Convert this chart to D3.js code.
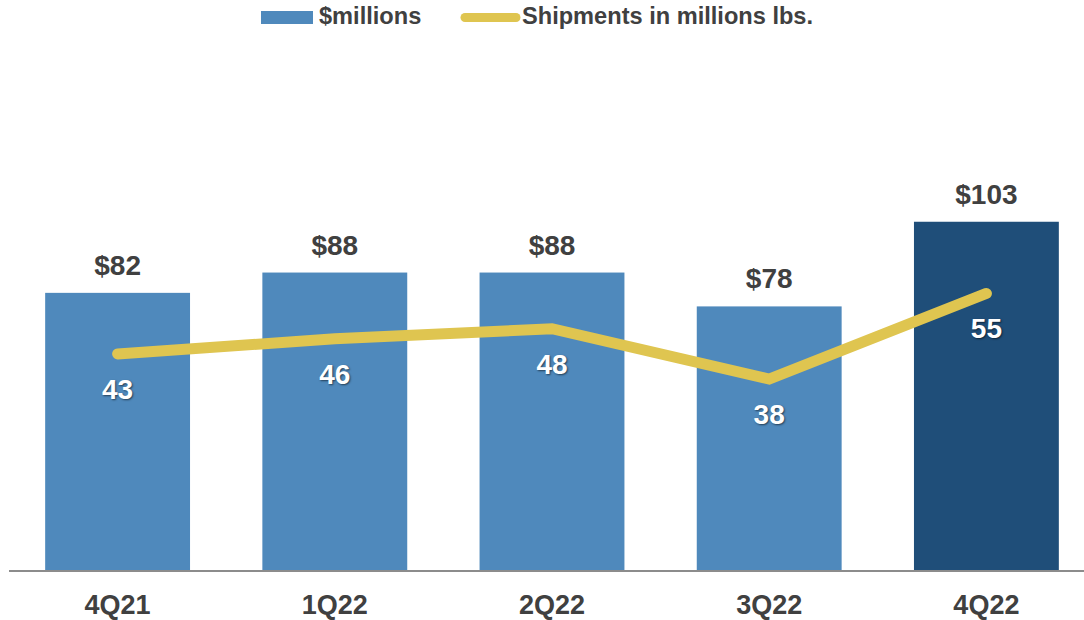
<!DOCTYPE html>
<html>
<head>
<meta charset="utf-8">
<script src="https://cdn.jsdelivr.net/npm/d3@7"></script>
<style>
  html, body { margin: 0; padding: 0; background: #ffffff; }
  svg { display: block; font-family: "Liberation Sans", Arial, sans-serif; font-weight: bold; }
  .inner { text-shadow: 1px 1px 2px rgba(0,0,0,0.55); }
</style>
</head>
<body>
<svg id="chart" width="1084" height="620"></svg>
<script>
// Quarterly revenue ($ millions) and shipments (millions lbs.)
const quarters = ["4Q21", "1Q22", "2Q22", "3Q22", "4Q22"];
const revenue = [82, 88, 88, 78, 103];
const shipments = [43, 46, 48, 38, 55];
const revenueLabels = ["$82", "$88", "$88", "$78", "$103"];
const legendLabels = ["$millions", "Shipments in millions lbs."];

const W = 1084, H = 620;
const baseY = 570.5, topY = 162.5;

const svg = d3.select("#chart");

const x = d3.scaleBand()
  .domain(quarters)
  .range([9, 1095])
  .paddingInner(0.333)
  .paddingOuter(0.1665);

const yBar = d3.scaleLinear().domain([0, 120.5]).range([baseY, topY]);
const yLine = d3.scaleLinear().domain([0, 81]).range([baseY, topY]);

const barColor = "#4f89bc";
const lastColor = "#1f4e79";
const lineColor = "#dfc550";
const textColor = "#404040";

// Bars
svg.append("g").selectAll("rect")
  .data(quarters)
  .join("rect")
  .attr("x", d => x(d))
  .attr("width", x.bandwidth())
  .attr("y", (d, i) => yBar(revenue[i]))
  .attr("height", (d, i) => baseY - yBar(revenue[i]))
  .attr("fill", (d, i) => i === quarters.length - 1 ? lastColor : barColor);

// Category axis line
svg.append("line")
  .attr("x1", 9).attr("x2", W)
  .attr("y1", 571).attr("y2", 571)
  .attr("stroke", "#8c8c8c")
  .attr("stroke-width", 2);

// Bar value labels
svg.append("g").selectAll("text")
  .data(quarters)
  .join("text")
  .attr("x", d => x(d) + x.bandwidth() / 2)
  .attr("y", (d, i) => yBar(revenue[i]) - 18)
  .attr("text-anchor", "middle")
  .attr("font-size", 28)
  .attr("fill", textColor)
  .text((d, i) => revenueLabels[i]);

// Shipments line
const line = d3.line()
  .x((d, i) => x(quarters[i]) + x.bandwidth() / 2)
  .y(d => yLine(d));

svg.append("path")
  .datum(shipments)
  .attr("d", line)
  .attr("fill", "none")
  .attr("stroke", lineColor)
  .attr("stroke-width", 11)
  .attr("stroke-linecap", "round")
  .attr("stroke-linejoin", "miter");

// Shipment labels
svg.append("g").selectAll("text")
  .data(shipments)
  .join("text")
  .attr("class", "inner")
  .attr("x", (d, i) => x(quarters[i]) + x.bandwidth() / 2)
  .attr("y", d => yLine(d) + 45)
  .attr("text-anchor", "middle")
  .attr("font-size", 28)
  .attr("fill", "#ffffff")
  .text(d => d);

// Category labels
svg.append("g").selectAll("text")
  .data(quarters)
  .join("text")
  .attr("x", d => x(d) + x.bandwidth() / 2)
  .attr("y", 614)
  .attr("text-anchor", "middle")
  .attr("font-size", 27)
  .attr("fill", textColor)
  .text(d => d);

// Legend
const legend = svg.append("g");
legend.append("rect")
  .attr("x", 261).attr("y", 11)
  .attr("width", 52).attr("height", 13)
  .attr("fill", barColor);
legend.append("text")
  .attr("x", 319).attr("y", 24)
  .attr("font-size", 23.6)
  .attr("fill", textColor)
  .text(legendLabels[0]);
legend.append("line")
  .attr("x1", 465).attr("x2", 516)
  .attr("y1", 17.5).attr("y2", 17.5)
  .attr("stroke", lineColor)
  .attr("stroke-width", 9)
  .attr("stroke-linecap", "round");
legend.append("text")
  .attr("x", 522).attr("y", 24)
  .attr("font-size", 23.6)
  .attr("fill", textColor)
  .text(legendLabels[1]);
</script>
</body>
</html>
